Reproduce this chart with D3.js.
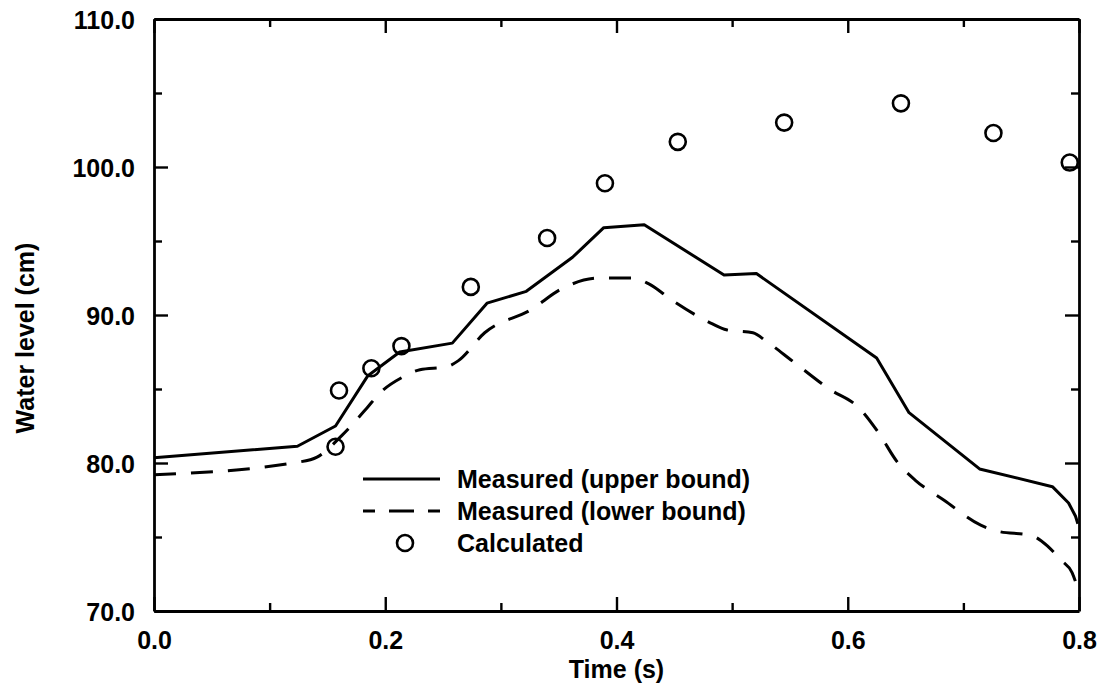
<!DOCTYPE html>
<html>
<head>
<meta charset="utf-8">
<script src="https://cdn.jsdelivr.net/npm/d3@7"></script>
<style>
	body { margin: 0; background: #fff; }
	svg text { font-family: "Liberation Sans", Arial, sans-serif; fill: #000; }
</style>
</head>
<body>
<div id="graphic"></div>
<script>
// measured upper bound (solid)
var upperTime = [0, 0.124, 0.157, 0.185, 0.2125, 0.258, 0.288, 0.322, 0.362, 0.389, 0.424, 0.493, 0.521, 0.625, 0.653, 0.714, 0.777, 0.791, 0.797, 0.799];
var upperLevel = [80.35, 81.13, 82.5, 85.9, 87.5, 88.1, 90.8, 91.6, 93.9, 95.9, 96.1, 92.7, 92.8, 87.1, 83.4, 79.6, 78.4, 77.3, 76.4, 75.9];

// measured lower bound (dashed)
var lowerTime = [0, 0.124, 0.141, 0.163, 0.184, 0.195, 0.215, 0.23, 0.253, 0.263, 0.286, 0.327, 0.351, 0.385, 0.414, 0.428, 0.448, 0.483, 0.495, 0.518, 0.53, 0.552, 0.584, 0.61, 0.627, 0.643, 0.659, 0.683, 0.715, 0.729, 0.759, 0.768, 0.785, 0.794, 0.799];
var lowerLevel = [79.2, 80.05, 80.4, 81.9, 83.7, 84.7, 85.8, 86.3, 86.5, 86.9, 88.8, 90.4, 91.7, 92.5, 92.5, 92.1, 91.0, 89.4, 89.0, 88.8, 88.2, 86.9, 85.0, 83.7, 82.0, 80.05, 78.8, 77.5, 75.8, 75.4, 75.1, 74.7, 73.4, 72.6, 71.5];

// calculated (circles)
var calcTime = [0.157, 0.160, 0.188, 0.214, 0.274, 0.340, 0.390, 0.453, 0.545, 0.646, 0.726, 0.792];
var calcLevel = [81.1, 84.9, 86.4, 87.9, 91.9, 95.2, 98.9, 101.7, 103.0, 104.3, 102.3, 100.3];

var xTicks = [0, 0.2, 0.4, 0.6, 0.8];
var xMinor = [0.1, 0.3, 0.5, 0.7];
var yTicks = [70, 80, 90, 100, 110];
var yMinor = [75, 85, 95, 105];

var legendLabels = ["Measured (upper bound)", "Measured (lower bound)", "Calculated"];

var width = 1101, height = 694;
var margin = { top: 19, right: 22, bottom: 83, left: 154 };
var w = width - margin.left - margin.right;
var h = height - margin.top - margin.bottom;
var fontSize = "25px";

var svg = d3.select("#graphic")
	.append("svg")
	.attr("width", width)
	.attr("height", height);

var g = svg.append("g")
	.attr("transform", "translate(" + margin.left + "," + margin.top + ")");

var x = d3.scaleLinear().domain([0, 0.8]).range([0, w]);
var y = d3.scaleLinear().domain([70, 110]).range([h, 0]);

var fmt = d3.format(".1f");

// axes with inward ticks on all four sides
function styleAxis(sel) {
	sel.select(".domain").attr("stroke", "#000").attr("stroke-width", 2.8);
	sel.selectAll(".tick line").attr("stroke", "#000").attr("stroke-width", 2.4);
	sel.selectAll("text").style("font-size", fontSize).style("font-weight", "bold");
}

var xBottom = g.append("g")
	.attr("transform", "translate(0," + h + ")")
	.call(d3.axisBottom(x).tickValues(xTicks).tickFormat(fmt).tickSizeInner(-14).tickSizeOuter(0).tickPadding(38));
styleAxis(xBottom);
xBottom.selectAll("text").attr("dy", "0");

var xTop = g.append("g")
	.call(d3.axisTop(x).tickValues(xTicks).tickFormat("").tickSizeInner(-14).tickSizeOuter(0));
styleAxis(xTop);

var yLeft = g.append("g")
	.call(d3.axisLeft(y).tickValues(yTicks).tickFormat(fmt).tickSizeInner(-14).tickSizeOuter(0).tickPadding(19));
styleAxis(yLeft);
yLeft.selectAll("text").attr("dy", "0.38em");

var yRight = g.append("g")
	.attr("transform", "translate(" + w + ",0)")
	.call(d3.axisRight(y).tickValues(yTicks).tickFormat("").tickSizeInner(-14).tickSizeOuter(0));
styleAxis(yRight);

// minor ticks
[[d3.axisBottom(x), "translate(0," + h + ")", xMinor],
 [d3.axisTop(x), "translate(0,0)", xMinor],
 [d3.axisLeft(y), "translate(0,0)", yMinor],
 [d3.axisRight(y), "translate(" + w + ",0)", yMinor]].forEach(function(a) {
	var m = g.append("g")
		.attr("transform", a[1])
		.call(a[0].tickValues(a[2]).tickFormat("").tickSizeInner(-8).tickSizeOuter(0));
	m.select(".domain").remove();
	m.selectAll(".tick line").attr("stroke", "#000").attr("stroke-width", 2.4);
});

// axis titles
svg.append("text")
	.attr("x", margin.left + w / 2)
	.attr("y", 678)
	.attr("text-anchor", "middle")
	.style("font-size", fontSize)
	.style("font-weight", "bold")
	.text("Time (s)");

svg.append("text")
	.attr("transform", "translate(34,338) rotate(-90)")
	.attr("text-anchor", "middle")
	.style("font-size", fontSize)
	.style("font-weight", "bold")
	.text("Water level (cm)");

var upper = upperTime.map(function(d, i) { return [d, upperLevel[i]]; });
var lower = lowerTime.map(function(d, i) { return [d, lowerLevel[i]]; });
var calc = calcTime.map(function(d, i) { return [d, calcLevel[i]]; });

var line = d3.line()
	.x(function(d) { return x(d[0]); })
	.y(function(d) { return y(d[1]); });

g.append("path")
	.datum(upper)
	.attr("fill", "none")
	.attr("stroke", "#000")
	.attr("stroke-width", 3)
	.attr("stroke-linejoin", "round")
	.attr("d", line);

g.append("path")
	.datum(lower)
	.attr("fill", "none")
	.attr("stroke", "#000")
	.attr("stroke-width", 3)
	.attr("stroke-dasharray", "22,15")
	.attr("d", line.curve(d3.curveMonotoneX));

g.selectAll(".calc")
	.data(calc)
	.enter()
	.append("circle")
	.attr("class", "calc")
	.attr("cx", function(d) { return x(d[0]); })
	.attr("cy", function(d) { return y(d[1]); })
	.attr("r", 8)
	.attr("fill", "none")
	.attr("stroke", "#000")
	.attr("stroke-width", 2.6);

// legend
var legend = svg.append("g").attr("transform", "translate(363,479)");
var rowH = 32;

legend.append("line")
	.attr("x1", 0).attr("x2", 77).attr("y1", 0).attr("y2", 0)
	.attr("stroke", "#000").attr("stroke-width", 3);

legend.append("line")
	.attr("x1", 0).attr("x2", 77).attr("y1", rowH).attr("y2", rowH)
	.attr("stroke", "#000").attr("stroke-width", 3)
	.attr("stroke-dasharray", "12,14,25,14,12");

legend.append("circle")
	.attr("cx", 42).attr("cy", rowH * 2)
	.attr("r", 8)
	.attr("fill", "none").attr("stroke", "#000").attr("stroke-width", 2.6);

legend.selectAll(".lab")
	.data(legendLabels)
	.enter()
	.append("text")
	.attr("class", "lab")
	.attr("x", 94)
	.attr("y", function(d, i) { return i * rowH + 9; })
	.style("font-size", fontSize)
	.style("font-weight", "bold")
	.text(function(d) { return d; });
</script>
</body>
</html>
